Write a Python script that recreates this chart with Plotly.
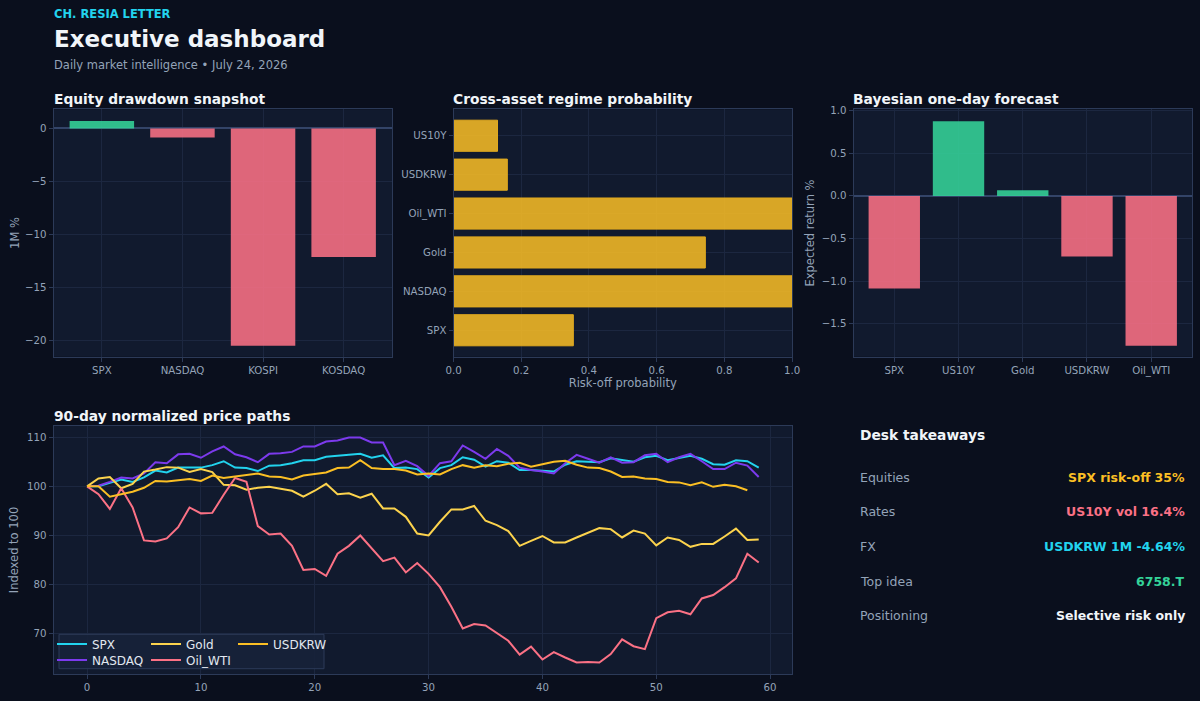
import plotly.graph_objects as go

W, H = 1200, 701

# ---- data ----
equity_names = ["SPX", "NASDAQ", "KOSPI", "KOSDAQ"]
equity_1m = [0.69, -0.85, -20.48, -12.1]

regime_assets = ["SPX", "NASDAQ", "Gold", "Oil_WTI", "USDKRW", "US10Y"]
regime_prob = [0.354, 1.0, 0.744, 1.0, 0.159, 0.130]

forecast_assets = ["SPX", "US10Y", "Gold", "USDKRW", "Oil_WTI"]
forecast_ret = [-1.087, 0.876, 0.066, -0.711, -1.758]

spx = [100, 100.0, 100.7, 101.4, 100.9, 101.8, 103.2, 102.8, 103.8, 103.8,
       103.8, 104.3, 105.1, 103.8, 103.7, 103.1, 104.2, 104.3, 104.7, 105.3,
       105.3, 106.0, 106.2, 106.5, 106.6, 105.8, 106.3, 103.7, 103.8, 103.5,
       101.8, 103.7, 104.3, 105.9, 105.4, 104.0, 105.1, 104.8, 103.3, 103.3,
       103.1, 103.0, 104.4, 105.1, 105.0, 104.9, 105.7, 105.3, 105.0, 105.9,
       106.2, 105.3, 105.8, 106.2, 105.6, 104.5, 104.4, 105.3, 105.1, 103.8]
nasdaq = [100, 100.1, 100.9, 101.8, 101.6, 102.6, 104.9, 104.7, 106.5, 106.6,
          105.8, 107.1, 108.1, 106.5, 105.9, 104.9, 106.6, 106.7, 107.0, 108.1,
          108.1, 109.1, 109.3, 109.9, 109.9, 108.9, 108.9, 104.3, 105.2, 104.1,
          102.1, 104.7, 105.1, 108.3, 107.0, 105.6, 107.6, 106.2, 103.8, 103.3,
          103.0, 102.6, 104.7, 106.4, 105.6, 104.8, 105.9, 104.8, 104.9, 106.3,
          106.6, 104.9, 105.9, 106.6, 105.1, 103.5, 103.5, 104.8, 104.2, 101.9]
gold = [100, 101.6, 101.9, 99.6, 100.5, 103.0, 103.4, 103.9, 103.8, 102.9,
        103.5, 102.9, 100.3, 100.2, 99.3, 99.7, 99.9, 99.5, 99.1, 97.9,
        99.1, 100.5, 98.4, 98.6, 97.7, 98.5, 95.5, 95.5, 93.8, 90.4,
        90.0, 92.8, 95.3, 95.3, 96.0, 93.0, 92.1, 90.9, 87.9, 88.9,
        89.9, 88.6, 88.6, 89.6, 90.6, 91.5, 91.3, 89.6, 91.0, 90.4,
        88.0, 89.6, 89.1, 87.7, 88.3, 88.3, 89.8, 91.4, 89.1, 89.2]
oil_wti = [100, 98.4, 95.4, 99.6, 95.7, 89.0, 88.8, 89.4, 91.7, 95.7,
           94.5, 94.6, 98.3, 101.7, 100.9, 91.9, 90.2, 90.4, 87.9, 83.0,
           83.2, 81.8, 86.3, 87.9, 90.0, 87.3, 84.8, 85.5, 82.5, 84.4,
           82.2, 79.5, 75.5, 71.1, 72.0, 71.7, 70.1, 68.6, 65.8, 67.4,
           64.8, 66.3, 65.2, 64.2, 64.3, 64.2, 65.9, 68.9, 67.5, 66.9,
           73.2, 74.4, 74.7, 74.0, 77.2, 77.9, 79.5, 81.3, 86.3, 84.5]
usdkrw = [100, 100.0, 97.9, 98.4, 98.9, 99.7, 101.1, 101.0, 101.2, 101.5,
          101.1, 102.2, 101.7, 102.0, 102.4, 102.6, 102.0, 101.9, 101.4, 102.2,
          102.5, 102.8, 103.7, 103.8, 105.3, 103.7, 103.5, 103.5, 103.2, 102.4,
          102.6, 102.4, 103.5, 104.3, 103.8, 104.3, 104.1, 104.6, 104.8, 104.0,
          104.5, 105.0, 105.2, 104.4, 103.8, 103.7, 103.0, 101.9, 102.0, 101.6,
          101.5, 100.9, 100.8, 100.2, 100.8, 99.9, 100.3, 100.0, 99.2]

takeaway_labels = ["Equities", "Rates", "FX", "Top idea", "Positioning"]
takeaway_values = ["SPX risk-off 35%", "US10Y vol 16.4%", "USDKRW 1M -4.64%", "6758.T", "Selective risk only"]

# ---- style ----
FONT = "DejaVu Sans"
BG = "#0a0f1d"
PANEL = "#111a2e"
GRID = "#1c2740"
AXIS = "#2c3a58"
TICK = "#94a3b8"
WHITE = "#f1f5f9"
GREEN = "rgba(52,211,153,0.88)"
RED = "rgba(251,113,133,0.88)"
AMBER_BAR = "rgba(251,191,36,0.85)"
line_colors = {"SPX": "#22d3ee", "NASDAQ": "#7c3aed", "Gold": "#fcd34d",
               "Oil_WTI": "#fb7185", "USDKRW": "#fbbf24"}
value_colors = ["#fbbf24", "#fb7185", "#22d3ee", "#34d399", WHITE]


def fx(p):
    return p / W


def fy(p):
    return 1 - p / H


def axis(**kw):
    d = dict(showline=True, mirror=True, linecolor=AXIS, linewidth=1,
             showgrid=True, gridcolor=GRID, gridwidth=1, zeroline=False,
             ticks="outside", ticklen=4, tickcolor=AXIS,
             tickfont=dict(family=FONT, size=10.2, color=TICK),
             title_font=dict(family=FONT, size=11.5, color=TICK), automargin=False)
    d.update(kw)
    return d


fig = go.Figure()

# equity drawdown
fig.add_trace(go.Bar(x=equity_names, y=equity_1m, width=0.8,
                     marker=dict(color=[GREEN if v >= 0 else RED for v in equity_1m], line=dict(width=0)),
                     xaxis="x", yaxis="y", showlegend=False))
# regime probability
fig.add_trace(go.Bar(y=regime_assets, x=regime_prob, orientation="h", width=0.8,
                     marker=dict(color=AMBER_BAR, line=dict(color="#e0a91f", width=1)),
                     xaxis="x2", yaxis="y2", showlegend=False))
# bayesian forecast
fig.add_trace(go.Bar(x=forecast_assets, y=forecast_ret, width=0.8,
                     marker=dict(color=[GREEN if v >= 0 else RED for v in forecast_ret], line=dict(width=0)),
                     xaxis="x3", yaxis="y3", showlegend=False))

# price paths, one legend per entry so the 3-column layout can be placed exactly
paths = [("SPX", spx, "legend", 52, 644), ("NASDAQ", nasdaq, "legend2", 52, 660),
         ("Gold", gold, "legend3", 146, 644), ("Oil_WTI", oil_wti, "legend4", 146, 660),
         ("USDKRW", usdkrw, "legend5", 233, 644)]
legend_font = dict(family=FONT, size=12, color="#e2e8f0")
for name, vals, lg, lx, ly in paths:
    fig.add_trace(go.Scatter(x=list(range(len(vals))), y=vals, mode="lines", name=name,
                             line=dict(color=line_colors[name], width=2),
                             xaxis="x4", yaxis="y4", legend=lg))
    fig.update_layout({lg: dict(x=fx(lx), y=fy(ly), xanchor="left", yanchor="middle",
                                bgcolor="rgba(0,0,0,0)", borderwidth=0, font=legend_font,
                                itemwidth=30)})

top = [fy(356.7), fy(109.3)]
fig.update_layout(
    width=W, height=H, paper_bgcolor=BG, plot_bgcolor=PANEL,
    margin=dict(l=0, r=0, t=0, b=0),
    font=dict(family=FONT, color=TICK),
    xaxis=axis(domain=[fx(53.5), fx(392)], range=[-0.6, 3.6]),
    yaxis=axis(domain=top, range=[-21.5, 1.8], dtick=5, zeroline=True, zerolinecolor="#334468",
               zerolinewidth=1.5, title=dict(text="1M %", standoff=2)),
    xaxis2=axis(domain=[fx(453.5), fx(792)], range=[0, 1.0], dtick=0.2, tickformat=".1f",
                anchor="y2", title=dict(text="Risk-off probability", standoff=4)),
    yaxis2=axis(domain=top, range=[-0.68, 5.68], anchor="x2"),
    xaxis3=axis(domain=[fx(853.5), fx(1192)], range=[-0.635, 4.635], anchor="y3"),
    yaxis3=axis(domain=top, range=[-1.885, 1.015], dtick=0.5, tickformat=".1f", anchor="x3",
                zeroline=True, zerolinecolor="#334468", zerolinewidth=1.5,
                title=dict(text="Expected return %", standoff=4)),
    xaxis4=axis(domain=[fx(53.5), fx(792.3)], range=[-2.95, 61.95], dtick=10, anchor="y4"),
    yaxis4=axis(domain=[fy(674), fy(426)], range=[61.85, 112.26], dtick=10, anchor="x4",
                title=dict(text="Indexed to 100", standoff=5)),
    bargap=0.2,
)

fig.add_shape(type="rect", xref="paper", yref="paper",
              x0=fx(59), x1=fx(324), y0=fy(668.7), y1=fy(634.3),
              fillcolor="rgba(23,34,58,0.92)", line=dict(color=AXIS, width=1), layer="above")

# header and panel titles
ann = [
    dict(text="<b>CH. RESIA LETTER</b>", x=52, y=14, size=11.5, color="#22d3ee"),
    dict(text="<b>Executive dashboard</b>", x=52, y=39.5, size=23, color=WHITE),
    dict(text="Daily market intelligence • July 24, 2026", x=52, y=64.5, size=11.5, color=TICK),
    dict(text="<b>Equity drawdown snapshot</b>", x=52, y=98.5, size=13.8, color=WHITE),
    dict(text="<b>Cross-asset regime probability</b>", x=451, y=98.5, size=13.8, color=WHITE),
    dict(text="<b>Bayesian one-day forecast</b>", x=851, y=98.5, size=13.8, color=WHITE),
    dict(text="<b>90-day normalized price paths</b>", x=52, y=415.5, size=13.8, color=WHITE),
    dict(text="<b>Desk takeaways</b>", x=858, y=434.5, size=13.8, color=WHITE),
]
for a in ann:
    fig.add_annotation(text=a["text"], xref="paper", yref="paper", x=fx(a["x"]), y=fy(a["y"]),
                       xanchor="left", yanchor="middle", showarrow=False,
                       font=dict(family=FONT, size=a["size"], color=a["color"]))

for i, (lab, val) in enumerate(zip(takeaway_labels, takeaway_values)):
    yy = 477 + i * 34.7
    fig.add_annotation(text=lab, xref="paper", yref="paper", x=fx(858), y=fy(yy),
                       xanchor="left", yanchor="middle", showarrow=False,
                       font=dict(family=FONT, size=12.5, color=TICK))
    fig.add_annotation(text="<b>" + val + "</b>", xref="paper", yref="paper", x=fx(1187), y=fy(yy),
                       xanchor="right", yanchor="middle", showarrow=False,
                       font=dict(family=FONT, size=12.5, color=value_colors[i]))

fig.write_html("out.html", config={"displayModeBar": False},
               post_script="document.body.style.margin='0';document.body.style.background='%s';" % BG)
